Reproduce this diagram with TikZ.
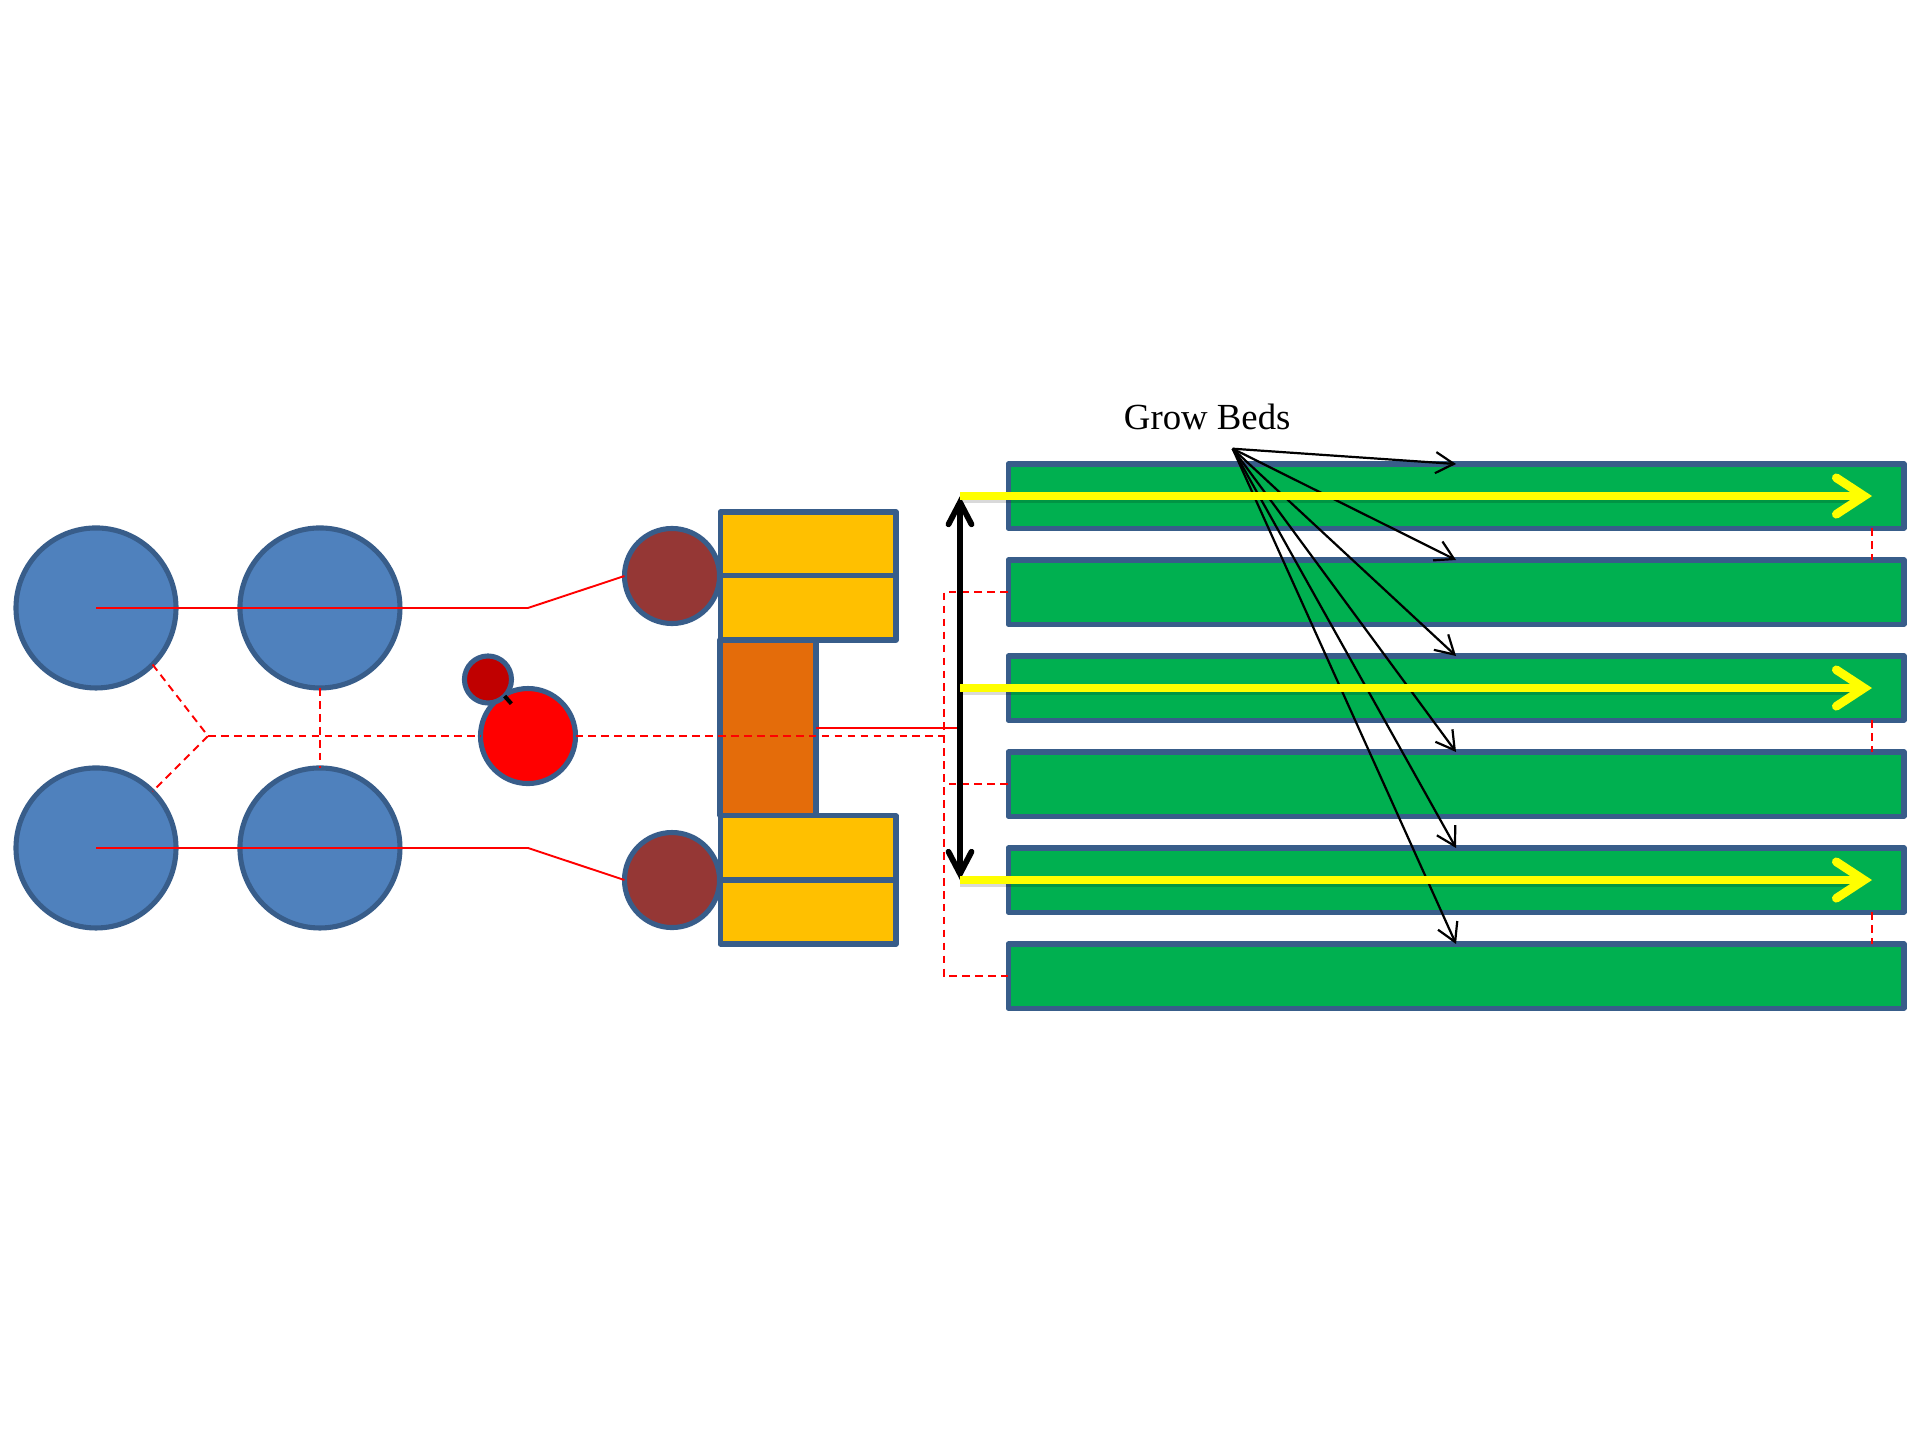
\documentclass[tikz,border=0pt]{standalone}
\usepackage{fontspec}
\setmainfont{Liberation Serif}
\usetikzlibrary{arrows.meta}
\definecolor{edgeblue}{HTML}{385D8A}
\definecolor{tankblue}{HTML}{4F81BD}
\definecolor{pumpbrown}{HTML}{953735}
\definecolor{valvered}{HTML}{C00000}
\definecolor{binamber}{HTML}{FFC000}
\definecolor{sumporange}{HTML}{E46C0A}
\definecolor{bedgreen}{HTML}{00B050}
\definecolor{flowyellow}{HTML}{FFFF00}
\tikzset{
	part/.style={draw=edgeblue, line width=0.53mm, line join=round, inner sep=0, outer sep=0},
	disc/.style={part, circle, minimum size=#1 cm},
	box/.style={part, rectangle, fill=binamber, minimum width=1.833cm, minimum height=0.667cm},
	bed/.style={part, rectangle, fill=bedgreen, minimum width=9.333cm, minimum height=0.667cm},
	pipe/.style={draw=red, line width=0.2mm},
	drain/.style={pipe, dash pattern=on 0.8mm off 0.55mm},
	pointer/.style={draw=black, line width=0.23mm, -{Straight Barb[length=1.9mm, width=2.2mm]}},
	reach/.style={draw=black, line width=0.6mm, {Straight Barb[length=2.3mm, width=2.4mm, line cap=round, line join=miter]}-{Straight Barb[length=2.3mm, width=2.4mm, line cap=round, line join=miter]}},
	flow/.style={draw=flowyellow, line width=0.9mm, -{Straight Barb[length=2.9mm, width=3.8mm, line cap=round, line join=miter]}},
	glow/.style={draw=black, opacity=0.15, line width=0.9mm, transform canvas={yshift=-0.3mm}}
}

\begin{document}
\begin{tikzpicture}
		\useasboundingbox (0, 0) rectangle (20, 15);
		%%%%% TANKS %%%%%
		\node[disc=1.667, fill=tankblue] (tank1) at (1, 8.667) {};
		\node[disc=1.667, fill=tankblue] (tank2) at (3.333, 8.667) {};
		\node[disc=1.667, fill=tankblue] (tank3) at (1, 6.167) {};
		\node[disc=1.667, fill=tankblue] (tank4) at (3.333, 6.167) {};
		
		%%%%% FILTER %%%%%
		\node[disc=0.99, fill=red] (filter) at (5.5, 7.333) {};
		\node[disc=0.49, fill=valvered] (valve) at (5.083, 7.922) {};
		\coordinate (valvetip) at (5.327, 7.67);
		\draw[line width=0.42mm] (valve.south east) -- (valvetip);
		
		%%%%% SUMP %%%%%
		\node[disc=0.99, fill=pumpbrown] (pump1) at (7, 9) {};
		\node[disc=0.99, fill=pumpbrown] (pump2) at (7, 5.833) {};
		\node[box] (bin1) at (8.417, 9.333) {};
		\node[box] (bin2) at (8.417, 8.667) {};
		\node[box] (bin3) at (8.417, 6.167) {};
		\node[box] (bin4) at (8.417, 5.5) {};
		\node[part, fill=sumporange, minimum width=1cm, minimum height=1.833cm] (sump) at (8, 7.417) {};
		
		%%%%% BEDS %%%%%
		\foreach \i/\y in {1/9.833, 2/8.833, 3/7.833, 4/6.833, 5/5.833, 6/4.833}
			\node[bed] (bed\i) at (15.167, \y) {};
		
		%%%%% PIPES %%%%%
		\coordinate (bend1) at (5.5, 8.667);
		\coordinate (bend2) at (5.5, 6.167);
		\draw[pipe] (tank1.center) -- (bend1) -- (pump1.west);
		\draw[pipe] (tank3.center) -- (bend2) -- (pump2.west);
		
		\coordinate (joint) at (2.167, 7.333);
		\coordinate (rail) at (9.833, 7.333);
		\draw[drain] (tank1.south east) -- (joint) -- (tank3.north east);
		\draw[drain] (tank2.south) -- (tank4.north);
		\draw[drain] (joint) -- (filter.west);
		\draw[drain] (filter.east) -- (rail);
		\draw[drain] (bed2.west) -| (rail) |- (bed6.west);
		\draw[drain] (bed4.west) -- (rail |- bed4.west);
		
		\coordinate (flowtip1) at (19.5, 9.833);
		\coordinate (flowtip3) at (19.5, 7.833);
		\coordinate (flowtip5) at (19.5, 5.833);
		\foreach \i/\j in {1/2, 3/4, 5/6}
			\draw[drain] (flowtip\i |- bed\i.south) -- (flowtip\i |- bed\j.north);
		
		%%%%% LABEL %%%%%
		\node[anchor=base, font=\fontsize{10.9}{13}\selectfont, inner sep=0] (growlabel) at (12.575, 10.53) {Grow Beds};
		\coordinate (growfoot) at (12.84, 10.326);
		\foreach \i in {1, ..., 6}
			\draw[pointer] (growfoot) -- (bed\i.north);
		
		%%%%% ARMS %%%%%
		\coordinate (arm1) at (10, 9.833);
		\coordinate (arm3) at (10, 7.833);
		\coordinate (arm5) at (10, 5.833);
		\draw[pipe] (sump.east) -- (sump.east -| arm1);
		\draw[reach] (arm1) -- (arm5);
		\foreach \i in {1, 3, 5} {
			\draw[glow] (arm\i) -- ([xshift=-1mm]flowtip\i);
			\draw[flow] (arm\i) -- (flowtip\i);
		}
		%%%%% END %%%%%
	\end{tikzpicture}
\end{document}
